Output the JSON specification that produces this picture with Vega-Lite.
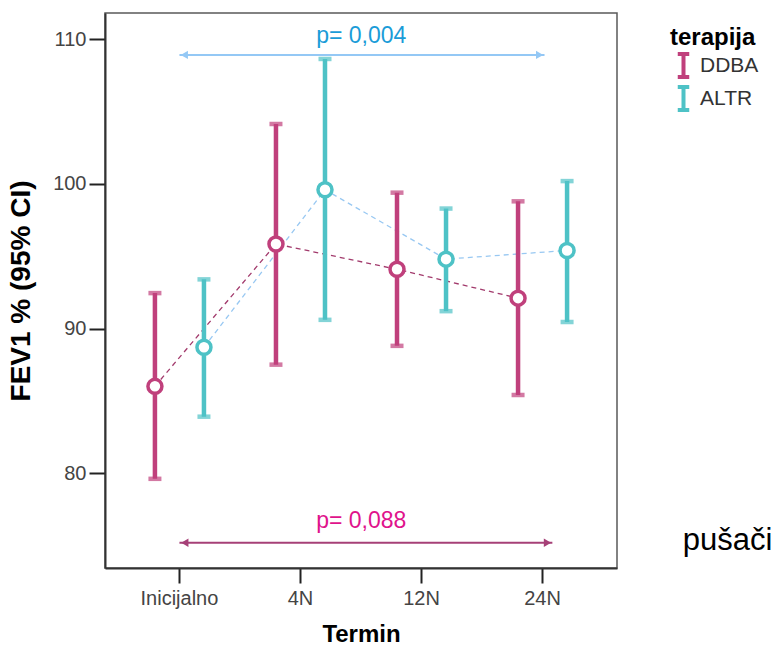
{
  "$schema": "https://vega.github.io/schema/vega-lite/v6.json",
  "width": 512,
  "height": 555,
  "autosize": {"type": "none"},
  "padding": {"left": 105, "top": 13, "right": 162, "bottom": 78},
  "background": "white",
  "config": {
    "font": "Liberation Sans",
    "view": {"stroke": "#5a5a5a", "strokeWidth": 1.5},
    "axisX": {"tickSize": 15, "labelPadding": 5, "labelFontSize": 20, "labelColor": "#444", "labelAngle": 0, "tickColor": "#222", "tickWidth": 2, "domainColor": "#333", "domainWidth": 2, "titleFontSize": 24, "titleFontWeight": "bold", "titleColor": "#000", "titlePadding": 14, "grid": false},
    "axisY": {"tickSize": 16, "labelPadding": 3, "labelFontSize": 20, "labelColor": "#444", "tickColor": "#222", "tickWidth": 2, "domainColor": "#333", "domainWidth": 2, "titleFontSize": 28, "titleFontWeight": "bold", "titleColor": "#000", "titlePadding": 17, "grid": false}
  },
  "datasets": {
    "stats": [
      {"termin": "Inicijalno", "terapija": "DDBA", "mean": 86.0, "lo": 79.6, "hi": 92.45},
      {"termin": "4N", "terapija": "DDBA", "mean": 95.85, "lo": 87.5, "hi": 104.15},
      {"termin": "12N", "terapija": "DDBA", "mean": 94.1, "lo": 88.8, "hi": 99.4},
      {"termin": "24N", "terapija": "DDBA", "mean": 92.1, "lo": 85.4, "hi": 98.8},
      {"termin": "Inicijalno", "terapija": "ALTR", "mean": 88.7, "lo": 83.9, "hi": 93.4},
      {"termin": "4N", "terapija": "ALTR", "mean": 99.6, "lo": 90.6, "hi": 108.65},
      {"termin": "12N", "terapija": "ALTR", "mean": 94.8, "lo": 91.2, "hi": 98.3},
      {"termin": "24N", "terapija": "ALTR", "mean": 95.4, "lo": 90.45, "hi": 100.2}
    ],
    "notes": [
      {"which": "top", "label": "p= 0,004", "from": "Inicijalno", "to": "24N", "mid": "4N", "y": 108.93, "ty": 109.76},
      {"which": "bottom", "label": "p= 0,088", "from": "Inicijalno", "to": "24N", "mid": "4N", "y": 75.18, "ty": 76.2}
    ],
    "extra": [
      {"label": "pušači", "at": "24N", "y": 74.67}
    ]
  },
  "layer": [
    {
      "data": {"name": "stats"},
      "transform": [{"filter": "datum.terapija === 'DDBA'"}],
      "mark": {"type": "line", "color": "#a23a6c", "strokeWidth": 1.3, "strokeDash": [5, 4]},
      "encoding": {
        "x": {"field": "termin", "type": "nominal", "title": "Termin", "scale": {"domain": ["Inicijalno", "4N", "12N", "24N"], "paddingInner": 0.19, "paddingOuter": 0.21}},
        "xOffset": {"field": "terapija", "type": "nominal", "scale": {"domain": ["DDBA", "ALTR"], "paddingInner": 0, "paddingOuter": 0}},
        "y": {"field": "mean", "type": "quantitative", "title": "FEV1 % (95% CI)", "scale": {"domain": [73.43, 111.83], "nice": false, "zero": false}, "axis": {"values": [80, 90, 100, 110]}}
      }
    },
    {
      "data": {"name": "stats"},
      "transform": [{"filter": "datum.terapija === 'ALTR'"}],
      "mark": {"type": "line", "color": "#98c8f2", "strokeWidth": 1.3, "strokeDash": [5, 4]},
      "encoding": {
        "x": {"field": "termin", "type": "nominal", "title": "Termin"},
        "xOffset": {"field": "terapija", "type": "nominal"},
        "y": {"field": "mean", "type": "quantitative", "title": "FEV1 % (95% CI)"}
      }
    },
    {
      "data": {"name": "stats"},
      "mark": {"type": "rule", "strokeWidth": 4.5},
      "encoding": {
        "x": {"field": "termin", "type": "nominal", "title": "Termin"},
        "xOffset": {"field": "terapija", "type": "nominal"},
        "y": {"field": "lo", "type": "quantitative", "title": "FEV1 % (95% CI)"},
        "y2": {"field": "hi"},
        "color": {"field": "terapija", "type": "nominal", "scale": {"domain": ["DDBA", "ALTR"], "range": ["#c0407c", "#4ec2c6"]},
          "legend": {"orient": "none", "legendX": 565, "legendY": 13, "title": "terapija", "titleFontSize": 24, "titleFontWeight": "bold", "titleColor": "#000", "titlePadding": 2, "labelFontSize": 21, "labelColor": "#333", "symbolType": "M-0.5,-1H0.5M0,-1V1M-0.5,1H0.5", "symbolSize": 529, "symbolStrokeWidth": 4, "symbolOpacity": 1, "symbolFillColor": "transparent", "rowPadding": -10, "labelOffset": 3, "padding": 0,
            "encode": {"symbols": {"update": {"size": {"value": 529}, "opacity": {"value": 1}, "strokeWidth": {"value": 4}, "fill": {"value": "transparent"}}}}}}
      }
    },
    {
      "data": {"name": "stats"},
      "mark": {"type": "tick", "thickness": 4.5, "size": 13},
      "encoding": {
        "x": {"field": "termin", "type": "nominal", "title": "Termin"},
        "xOffset": {"field": "terapija", "type": "nominal"},
        "y": {"field": "lo", "type": "quantitative", "title": "FEV1 % (95% CI)"},
        "color": {"field": "terapija", "type": "nominal"}
      }
    },
    {
      "data": {"name": "stats"},
      "mark": {"type": "tick", "thickness": 4.5, "size": 13},
      "encoding": {
        "x": {"field": "termin", "type": "nominal", "title": "Termin"},
        "xOffset": {"field": "terapija", "type": "nominal"},
        "y": {"field": "hi", "type": "quantitative", "title": "FEV1 % (95% CI)"},
        "color": {"field": "terapija", "type": "nominal"}
      }
    },
    {
      "data": {"name": "stats"},
      "mark": {"type": "point", "shape": "circle", "filled": false, "fill": "white", "fillOpacity": 1, "opacity": 1, "strokeWidth": 3.5, "size": 196},
      "encoding": {
        "x": {"field": "termin", "type": "nominal", "title": "Termin"},
        "xOffset": {"field": "terapija", "type": "nominal"},
        "y": {"field": "mean", "type": "quantitative", "title": "FEV1 % (95% CI)"},
        "color": {"field": "terapija", "type": "nominal"}
      }
    },
    {
      "data": {"name": "notes"},
      "transform": [{"filter": "datum.which === 'top'"}],
      "mark": {"type": "rule", "color": "#94c8f5", "strokeWidth": 2},
      "encoding": {
        "x": {"field": "from", "type": "nominal", "title": "Termin", "bandPosition": 0.5},
        "x2": {"field": "to", "bandPosition": 0.52},
        "y": {"field": "y", "type": "quantitative", "title": "FEV1 % (95% CI)"}
      }
    },
    {
      "data": {"name": "notes"},
      "transform": [{"filter": "datum.which === 'top'"}],
      "mark": {"type": "point", "shape": "triangle-left", "filled": true, "color": "#94c8f5", "opacity": 1, "size": 70},
      "encoding": {
        "x": {"field": "from", "type": "nominal", "title": "Termin", "bandPosition": 0.55},
        "y": {"field": "y", "type": "quantitative", "title": "FEV1 % (95% CI)"}
      }
    },
    {
      "data": {"name": "notes"},
      "transform": [{"filter": "datum.which === 'top'"}],
      "mark": {"type": "point", "shape": "triangle-right", "filled": true, "color": "#94c8f5", "opacity": 1, "size": 70},
      "encoding": {
        "x": {"field": "to", "type": "nominal", "title": "Termin", "bandPosition": 0.47},
        "y": {"field": "y", "type": "quantitative", "title": "FEV1 % (95% CI)"}
      }
    },
    {
      "data": {"name": "notes"},
      "transform": [{"filter": "datum.which === 'top'"}],
      "mark": {"type": "text", "color": "#1a9cd8", "fontSize": 23, "align": "center", "baseline": "alphabetic"},
      "encoding": {
        "x": {"field": "mid", "type": "nominal", "title": "Termin", "bandPosition": 1.12},
        "y": {"field": "ty", "type": "quantitative", "title": "FEV1 % (95% CI)"},
        "text": {"field": "label"}
      }
    },
    {
      "data": {"name": "notes"},
      "transform": [{"filter": "datum.which === 'bottom'"}],
      "mark": {"type": "rule", "color": "#a64077", "strokeWidth": 2},
      "encoding": {
        "x": {"field": "from", "type": "nominal", "title": "Termin", "bandPosition": 0.5},
        "x2": {"field": "to", "bandPosition": 0.6},
        "y": {"field": "y", "type": "quantitative", "title": "FEV1 % (95% CI)"}
      }
    },
    {
      "data": {"name": "notes"},
      "transform": [{"filter": "datum.which === 'bottom'"}],
      "mark": {"type": "point", "shape": "triangle-left", "filled": true, "color": "#a64077", "opacity": 1, "size": 70},
      "encoding": {
        "x": {"field": "from", "type": "nominal", "title": "Termin", "bandPosition": 0.555},
        "y": {"field": "y", "type": "quantitative", "title": "FEV1 % (95% CI)"}
      }
    },
    {
      "data": {"name": "notes"},
      "transform": [{"filter": "datum.which === 'bottom'"}],
      "mark": {"type": "point", "shape": "triangle-right", "filled": true, "color": "#a64077", "opacity": 1, "size": 70},
      "encoding": {
        "x": {"field": "to", "type": "nominal", "title": "Termin", "bandPosition": 0.55},
        "y": {"field": "y", "type": "quantitative", "title": "FEV1 % (95% CI)"}
      }
    },
    {
      "data": {"name": "notes"},
      "transform": [{"filter": "datum.which === 'bottom'"}],
      "mark": {"type": "text", "color": "#e0138c", "fontSize": 23, "align": "center", "baseline": "alphabetic"},
      "encoding": {
        "x": {"field": "mid", "type": "nominal", "title": "Termin", "bandPosition": 1.12},
        "y": {"field": "ty", "type": "quantitative", "title": "FEV1 % (95% CI)"},
        "text": {"field": "label"}
      }
    },
    {
      "data": {"name": "extra"},
      "mark": {"type": "text", "color": "#000", "fontSize": 31, "align": "left", "baseline": "alphabetic"},
      "encoding": {
        "x": {"field": "at", "type": "nominal", "title": "Termin", "bandPosition": 1.93},
        "y": {"field": "y", "type": "quantitative", "title": "FEV1 % (95% CI)"},
        "text": {"field": "label"}
      }
    }
  ]
}
